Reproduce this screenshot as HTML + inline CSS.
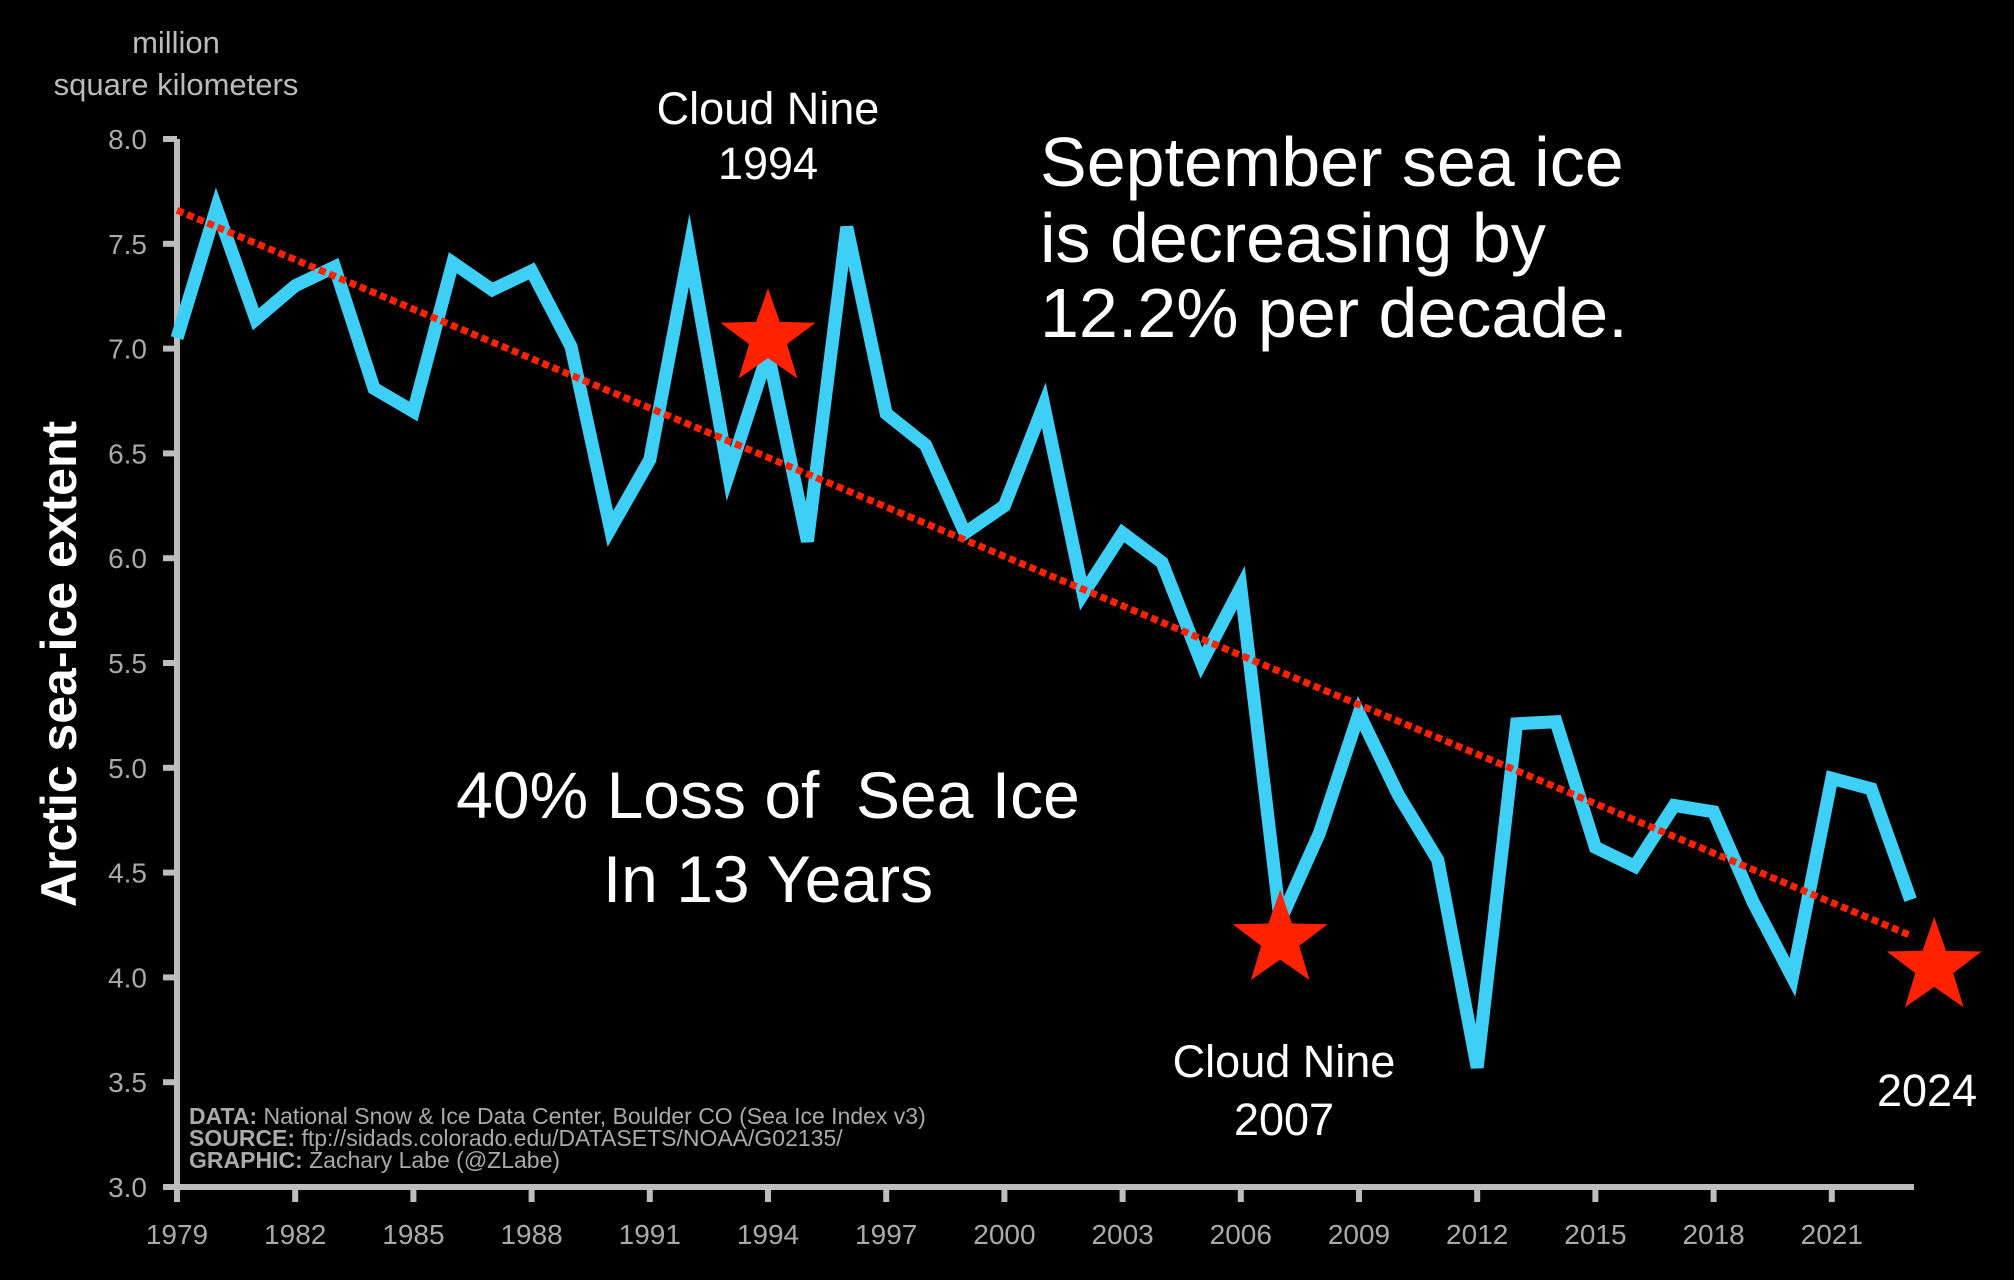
<!DOCTYPE html>
<html><head><meta charset="utf-8"><style>
html,body{margin:0;padding:0;background:#000;}
svg{display:block;}
text{font-family:"Liberation Sans",sans-serif;white-space:pre;}
</style></head><body>
<svg id="chart" width="2014" height="1280" viewBox="0 0 2014 1280">
<rect width="2014" height="1280" fill="#000"/>
<g id="axes"></g>
<g id="marks"></g>
<g id="labels"></g>
</svg>
<script>
const years = [1979,1980,1981,1982,1983,1984,1985,1986,1987,1988,1989,1990,1991,1992,1993,1994,1995,1996,1997,1998,1999,2000,2001,2002,2003,2004,2005,2006,2007,2008,2009,2010,2011,2012,2013,2014,2015,2016,2017,2018,2019,2020,2021,2022,2023];
const extent = [7.05,7.67,7.14,7.30,7.39,6.81,6.70,7.41,7.28,7.37,7.01,6.14,6.47,7.47,6.40,6.98,6.08,7.58,6.69,6.54,6.12,6.25,6.73,5.83,6.12,5.98,5.50,5.86,4.27,4.69,5.26,4.87,4.56,3.57,5.21,5.22,4.62,4.53,4.82,4.79,4.36,4.00,4.95,4.90,4.37];
const trendYears = [1979,2023];
const trendValues = [7.66,4.20];
const starYears = [1994,2007,2023.6];
const starValues = [7.05,4.18,4.05];
const yTicks = [3.0,3.5,4.0,4.5,5.0,5.5,6.0,6.5,7.0,7.5,8.0];
const xTicks = [1979,1982,1985,1988,1991,1994,1997,2000,2003,2006,2009,2012,2015,2018,2021];

const NS='http://www.w3.org/2000/svg';
function xS(v){return 177+(v-1979)*39.4;}
function yS(v){return 139+(8-v)*209.6;}
function mk(tag,attrs,parent,txt){const e=document.createElementNS(NS,tag);for(const k in attrs)e.setAttribute(k,attrs[k]);if(txt!==undefined)e.textContent=txt;parent.appendChild(e);return e;}
const axes=document.getElementById('axes'),marks=document.getElementById('marks'),labels=document.getElementById('labels');

let a=mk('line',{x1:177,y1:yS(8),x2:177,y2:yS(3)+3,stroke:'#bdbdbd','stroke-width':6},axes);


a=mk('line',{x1:174,y1:yS(3),x2:1914,y2:yS(3),stroke:'#bdbdbd','stroke-width':6},axes);


yTicks.forEach(v=>{
  const t=mk('line',{x1:163,y1:yS(v),x2:177,y2:yS(v),stroke:'#bdbdbd','stroke-width':6},axes);
  
  
  const l=mk('text',{x:147,y:yS(v)+10,'text-anchor':'end','font-size':28,fill:'#aaa'},axes,v.toFixed(1));
  
  
});
xTicks.forEach(v=>{
  const t=mk('line',{x1:xS(v),y1:yS(3),x2:xS(v),y2:yS(3)+15,stroke:'#bdbdbd','stroke-width':6},axes);
  
  
  const l=mk('text',{x:xS(v),y:1244,'text-anchor':'middle','font-size':28,fill:'#aaa'},axes,String(v));
  
  
});

const pts=years.map((y,i)=>xS(y).toFixed(1)+','+yS(extent[i]).toFixed(1)).join(' ');
const line=mk('polyline',{points:pts,fill:'none',stroke:'#3dcff6','stroke-width':13,'stroke-linejoin':'miter','stroke-miterlimit':6},marks);


const tr=mk('line',{x1:xS(trendYears[0]),y1:yS(trendValues[0]),x2:xS(trendYears[1]),y2:yS(trendValues[1]),stroke:'#ff2200','stroke-width':7,'stroke-dasharray':'7 4'},marks);



function starPts(cx,cy,R){const r=R*0.4;let p=[];for(let i=0;i<10;i++){const rad=i%2?r:R;const ang=-Math.PI/2+i*Math.PI/5;p.push((cx+rad*Math.cos(ang)).toFixed(1)+','+(cy+rad*Math.sin(ang)).toFixed(1));}return p.join(' ');}
starYears.forEach((y,i)=>{
  const s=mk('polygon',{points:starPts(xS(y),yS(starValues[i]),50),fill:'#ff2200'},marks);
  
  
});

function txt(name,x,y,size,fill,str,anchor,weight){
  const t=mk('text',{x:x,y:y,'font-size':size,fill:fill,'text-anchor':anchor||'middle','font-weight':weight||'normal'},labels,str);
  
  
  return t;
}
txt('unit-label-line1',176,53,31,'#bbb','million');
txt('unit-label-line2',176,95,31,'#bbb','square kilometers');
const yt=txt('y-axis-title',0,0,50,'#fff','Arctic sea-ice extent','middle','bold');
yt.setAttribute('transform','translate(76,664) rotate(-90)');
txt('annotation-1994-line1',768,124,45,'#fff','Cloud Nine');
txt('annotation-1994-line2',768,179,45,'#fff','1994');
txt('trend-text-line1',1040,186,70,'#fff','September sea ice','start');
txt('trend-text-line2',1040,262,70,'#fff','is decreasing by','start');
txt('trend-text-line3',1040,337,70,'#fff','12.2% per decade.','start');
txt('loss-text-line1',768,818,66,'#fff','40% Loss of  Sea Ice');
txt('loss-text-line2',768,902,66,'#fff','In 13 Years');
txt('annotation-2007-line1',1284,1077,45,'#fff','Cloud Nine');
txt('annotation-2007-line2',1284,1135,45,'#fff','2007');
txt('annotation-2024',1927,1106,45,'#fff','2024');
const c1=txt('credit-data',189,1124,23,'#aaa','','start');
mk('tspan',{'font-weight':'bold'},c1,'DATA:');mk('tspan',{},c1,' National Snow & Ice Data Center, Boulder CO (Sea Ice Index v3)');
const c2=txt('credit-source',189,1146,23,'#aaa','','start');
mk('tspan',{'font-weight':'bold'},c2,'SOURCE:');mk('tspan',{},c2,' ftp://sidads.colorado.edu/DATASETS/NOAA/G02135/');
const c3=txt('credit-graphic',189,1168,23,'#aaa','','start');
mk('tspan',{'font-weight':'bold'},c3,'GRAPHIC:');mk('tspan',{},c3,' Zachary Labe (@ZLabe)');
</script>
</body></html>
